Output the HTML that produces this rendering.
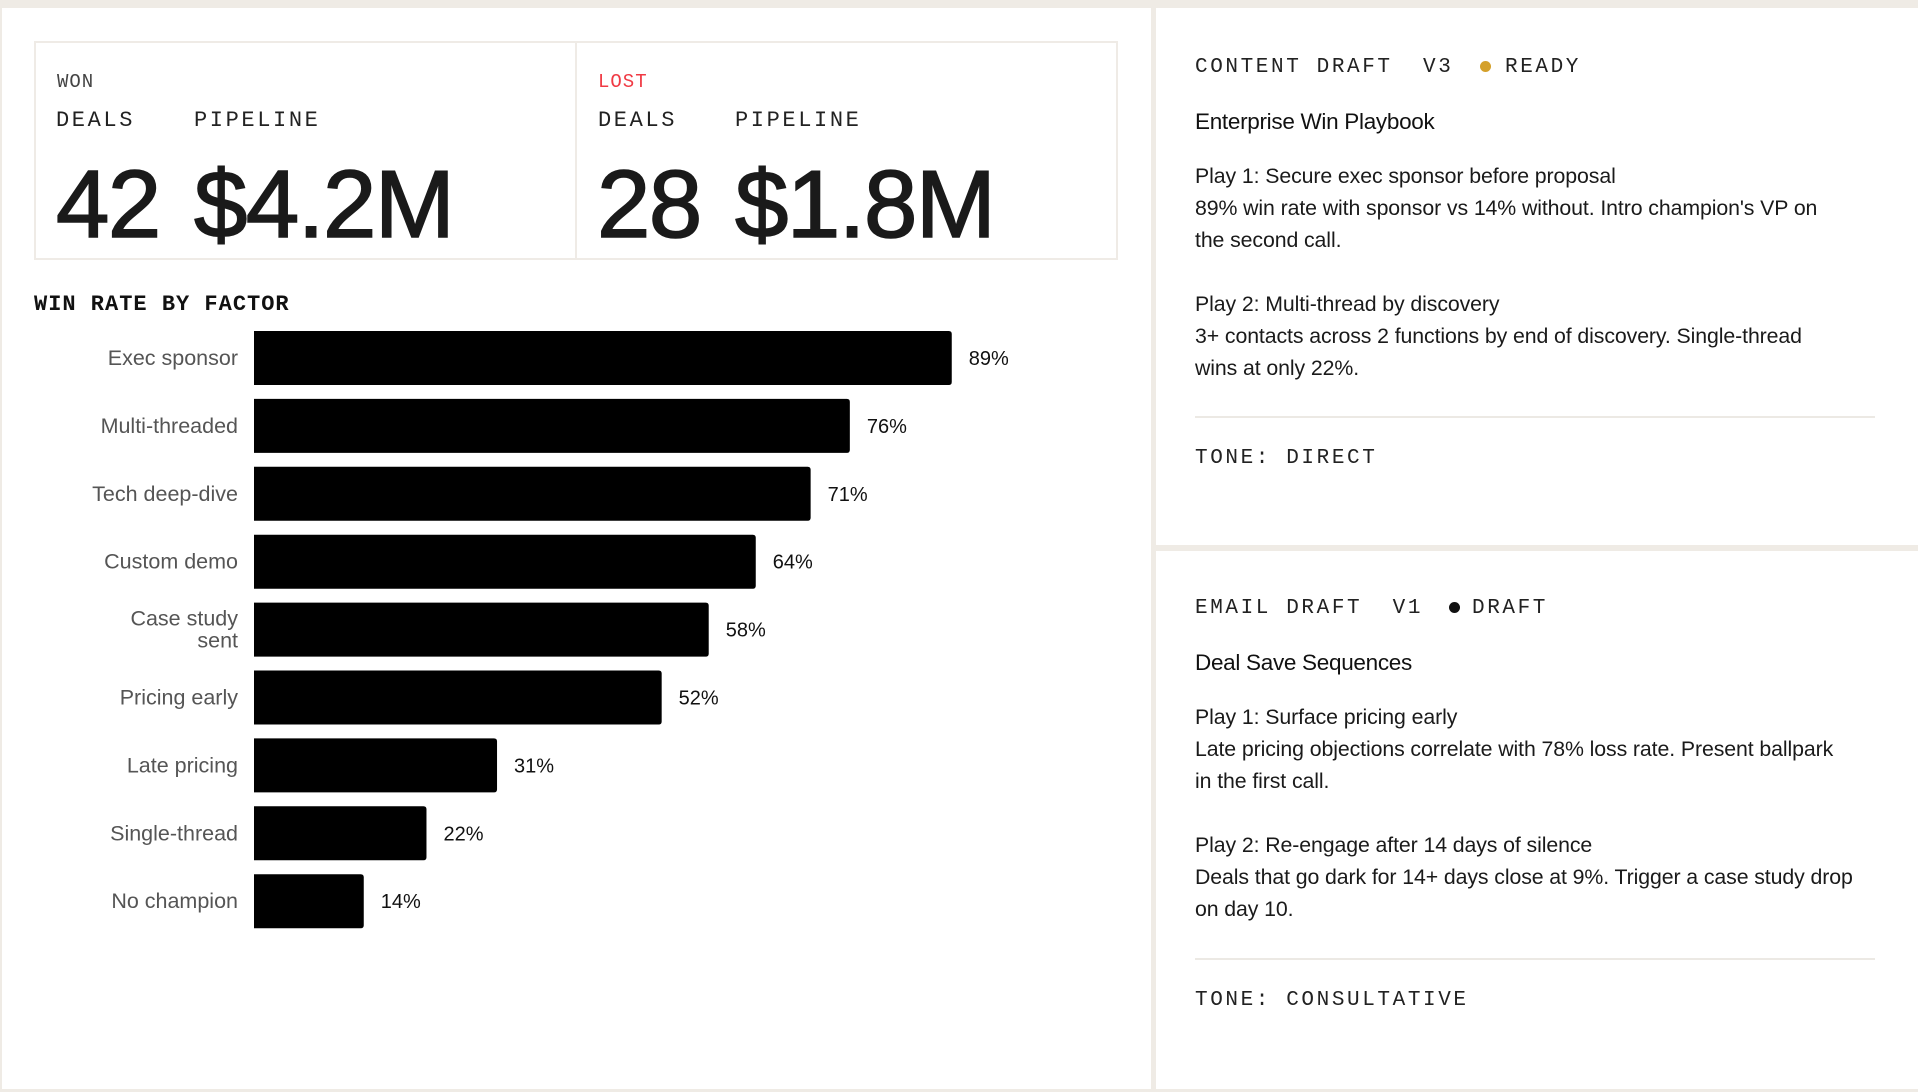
<!DOCTYPE html>
<html><head><meta charset="utf-8">
<style>
*{margin:0;padding:0;box-sizing:border-box}
body{width:1918px;height:1092px;background:#efebe5;position:relative;overflow:hidden;font-family:"Liberation Sans",sans-serif;color:#111}
.panel{position:absolute;background:#fff}
.abs{position:absolute;white-space:pre}
.mono{font-family:"Liberation Mono",monospace}
.hdr{font-size:21px;letter-spacing:2.6px;color:#222}
.body{font-size:21.3px;color:#1a1a1a;line-height:32px;letter-spacing:-0.1px}
.title{font-size:22.5px;font-weight:500;color:#111;letter-spacing:-0.3px}
.rule{position:absolute;height:2px;background:#ece9e4}
.big{font-size:96px;line-height:110px;color:#1a1a1a;letter-spacing:-1.5px;-webkit-text-stroke:1.6px #1a1a1a}
</style></head><body>
<div class="panel" style="left:2px;top:8px;width:1149px;height:1081px"></div>
<div class="panel" style="left:1156px;top:8px;width:762px;height:537px"></div>
<div class="panel" style="left:1156px;top:551px;width:762px;height:538px"></div>

<div class="abs" style="left:34px;top:41px;width:1084px;height:219px;border:2px solid #efebe6"></div>
<div class="abs" style="left:575px;top:41px;width:2px;height:219px;background:#efebe6"></div>

<div class="abs mono" style="left:57px;top:71px;font-size:19px;color:#444;letter-spacing:1px">WON</div>
<div class="abs mono" style="left:56px;top:108px;font-size:22px;letter-spacing:2.6px;color:#222">DEALS</div>
<div class="abs mono" style="left:194px;top:108px;font-size:22px;letter-spacing:2.6px;color:#222">PIPELINE</div>
<div class="abs big" style="left:56px;top:150px">42</div>
<div class="abs big" style="left:194px;top:150px">$4.2M</div>

<div class="abs mono" style="left:598px;top:71px;font-size:19px;color:#f03a44;letter-spacing:1px">LOST</div>
<div class="abs mono" style="left:598px;top:108px;font-size:22px;letter-spacing:2.6px;color:#222">DEALS</div>
<div class="abs mono" style="left:735px;top:108px;font-size:22px;letter-spacing:2.6px;color:#222">PIPELINE</div>
<div class="abs big" style="left:597px;top:150px">28</div>
<div class="abs big" style="left:735px;top:150px">$1.8M</div>

<div class="abs mono" style="left:34px;top:292px;font-size:22px;letter-spacing:1px;font-weight:bold;color:#111">WIN RATE BY FACTOR</div>
<svg id="chart" style="position:absolute;left:0;top:0" width="1150" height="1092"></svg>

<!-- Content draft -->
<div class="abs mono hdr" style="left:1195px;top:56px">CONTENT DRAFT  V3</div>
<div class="abs" style="left:1480px;top:61px;width:11px;height:11px;border-radius:50%;background:#d4a02a"></div>
<div class="abs mono hdr" style="left:1505px;top:56px">READY</div>
<div class="abs title" style="left:1195px;top:109px">Enterprise Win Playbook</div>
<div class="abs body" style="left:1195px;top:160px">Play 1: Secure exec sponsor before proposal
89% win rate with sponsor vs 14% without. Intro champion's VP on
the second call.

Play 2: Multi-thread by discovery
3+ contacts across 2 functions by end of discovery. Single-thread
wins at only 22%.</div>
<div class="rule" style="left:1195px;top:416px;width:680px"></div>
<div class="abs mono hdr" style="left:1195px;top:447px">TONE: DIRECT</div>

<!-- Email draft -->
<div class="abs mono hdr" style="left:1195px;top:597px">EMAIL DRAFT  V1</div>
<div class="abs" style="left:1449px;top:602px;width:11px;height:11px;border-radius:50%;background:#111"></div>
<div class="abs mono hdr" style="left:1472px;top:597px">DRAFT</div>
<div class="abs title" style="left:1195px;top:650px">Deal Save Sequences</div>
<div class="abs body" style="left:1195px;top:701px">Play 1: Surface pricing early
Late pricing objections correlate with 78% loss rate. Present ballpark
in the first call.

Play 2: Re-engage after 14 days of silence
Deals that go dark for 14+ days close at 9%. Trigger a case study drop
on day 10.</div>
<div class="rule" style="left:1195px;top:958px;width:680px"></div>
<div class="abs mono hdr" style="left:1195px;top:989px">TONE: CONSULTATIVE</div>

<script>
const categories = [["Exec sponsor"],["Multi-threaded"],["Tech deep-dive"],["Custom demo"],["Case study","sent"],["Pricing early"],["Late pricing"],["Single-thread"],["No champion"]];
const winRates = [89,76,71,64,58,52,31,22,14];
const valueLabels = ["89%","76%","71%","64%","58%","52%","31%","22%","14%"];

const svg = document.getElementById('chart');
const NS = 'http://www.w3.org/2000/svg';
const x0 = 254, pxPerPct = 7.84, firstCenter = 358, pitch = 67.9, barH = 54;
const xScale = v => v * pxPerPct;
const yScale = i => firstCenter + i * pitch;
winRates.forEach((v, i) => {
  const cy = yScale(i), w = xScale(v), r = 3;
  const p = document.createElementNS(NS, 'path');
  const t = cy - barH/2, b = cy + barH/2, e = x0 + w;
  p.setAttribute('d', `M${x0},${t} H${e-r} Q${e},${t} ${e},${t+r} V${b-r} Q${e},${b} ${e-r},${b} H${x0} Z`);
  p.setAttribute('fill', '#000');
  
  
  svg.appendChild(p);
  const vt = document.createElementNS(NS, 'text');
  vt.setAttribute('x', e + 17);
  vt.setAttribute('y', cy + 7);
  vt.setAttribute('font-size', '20');
  vt.setAttribute('fill', '#111');
  vt.setAttribute('font-family', 'Liberation Sans, sans-serif');
  vt.textContent = valueLabels[i];
  
  
  svg.appendChild(vt);
  const lines = categories[i];
  const lt = document.createElementNS(NS, 'text');
  lt.setAttribute('text-anchor', 'end');
  lt.setAttribute('font-size', '21.5');
  lt.setAttribute('fill', '#555');
  lt.setAttribute('font-family', 'Liberation Sans, sans-serif');
  
  
  lines.forEach((s, j) => {
    const ts = document.createElementNS(NS, 'tspan');
    ts.setAttribute('x', 238);
    ts.setAttribute('y', cy + 7 + (j - (lines.length-1)/2) * 22);
    ts.textContent = s;
    lt.appendChild(ts);
  });
  svg.appendChild(lt);
});
</script>
</body></html>
